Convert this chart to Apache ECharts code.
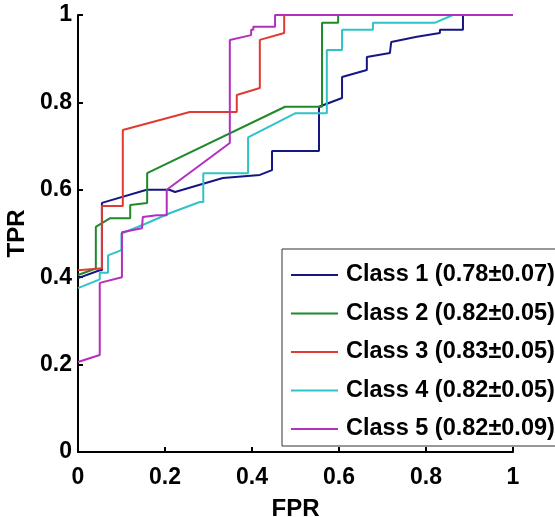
<!DOCTYPE html>
<html>
<head>
<meta charset="utf-8">
<script src="https://cdn.jsdelivr.net/npm/echarts@6/dist/echarts.min.js"></script>
<style>
  html, body { margin: 0; padding: 0; background: #fff; }
  #chart { width: 555px; height: 517px; }
</style>
</head>
<body>
<div id="chart"></div>
<script>
// ROC points [FPR, TPR]
const class1 = [[0,0.398],[0.05,0.416],[0.055,0.416],[0.055,0.57],[0.158,0.6],[0.21,0.6],[0.223,0.595],[0.333,0.627],[0.418,0.634],[0.446,0.645],[0.446,0.689],[0.554,0.689],[0.554,0.79],[0.607,0.81],[0.607,0.858],[0.664,0.874],[0.664,0.904],[0.717,0.913],[0.72,0.938],[0.779,0.95],[0.832,0.959],[0.832,0.966],[0.885,0.966],[0.885,1],[1,1]]
const class2 = [[0,0.405],[0.041,0.42],[0.041,0.515],[0.074,0.535],[0.12,0.535],[0.12,0.565],[0.159,0.57],[0.159,0.638],[0.476,0.79],[0.561,0.79],[0.561,0.982],[0.598,0.982],[0.598,1],[1,1]]
const class3 = [[0,0.416],[0.05,0.42],[0.055,0.42],[0.055,0.563],[0.103,0.563],[0.103,0.737],[0.257,0.778],[0.365,0.778],[0.365,0.817],[0.418,0.833],[0.418,0.943],[0.474,0.959],[0.474,1],[1,1]]
const class4 = [[0,0.375],[0.05,0.395],[0.05,0.41],[0.069,0.41],[0.069,0.45],[0.1,0.462],[0.1,0.5],[0.15,0.52],[0.212,0.547],[0.28,0.572],[0.288,0.572],[0.288,0.638],[0.391,0.638],[0.391,0.72],[0.499,0.775],[0.572,0.775],[0.572,0.92],[0.607,0.92],[0.607,0.966],[0.678,0.966],[0.678,0.982],[0.82,0.982],[0.862,1],[1,1]]
const class5 = [[0,0.206],[0.05,0.222],[0.05,0.387],[0.101,0.4],[0.101,0.503],[0.147,0.512],[0.149,0.538],[0.181,0.542],[0.204,0.542],[0.204,0.6],[0.349,0.707],[0.349,0.943],[0.398,0.954],[0.398,0.966],[0.403,0.966],[0.403,0.973],[0.453,0.973],[0.453,1],[1,1]]

const names = ['Class 1 (0.78±0.07)', 'Class 2 (0.82±0.05)', 'Class 3 (0.83±0.05)', 'Class 4 (0.82±0.05)', 'Class 5 (0.82±0.09)']
const colors = ['#161682', '#1f8a2a', '#e03a33', '#2fc3c8', '#b42ec0']
const curves = [class1, class2, class3, class4, class5]

const chart = echarts.init(document.getElementById('chart'))

const axisCommon = {
  type: 'value',
  min: 0,
  max: 1,
  interval: 0.2,
  splitLine: { show: false },
  axisLine: { show: true, lineStyle: { color: '#000', width: 2 } },
  axisTick: { show: true, inside: true, length: 5, lineStyle: { color: '#000', width: 2 } },
  axisLabel: { color: '#000', fontFamily: 'Liberation Sans', fontWeight: 'bold', fontSize: 23 },
  nameTextStyle: { color: '#000', fontFamily: 'Liberation Sans', fontWeight: 'bold', fontSize: 24 }
}

chart.setOption({
  animation: false,
  backgroundColor: '#fff',
  grid: { left: 78, top: 15, width: 435, height: 437, containLabel: false, outerBoundsMode: 'none' },
  xAxis: Object.assign({}, axisCommon, {
    name: 'FPR', nameLocation: 'middle', nameGap: 45,
    axisLabel: Object.assign({}, axisCommon.axisLabel, { margin: 14 })
  }),
  yAxis: Object.assign({}, axisCommon, {
    name: 'TPR', nameLocation: 'middle', nameGap: 49,
    axisLabel: Object.assign({}, axisCommon.axisLabel, { margin: 6 })
  }),
  legend: {
    orient: 'vertical',
    left: 282,
    top: 249,
    padding: [12, 14, 3, 9],
    itemWidth: 47,
    itemHeight: 2,
    itemGap: 10.5,
    icon: 'rect',
    borderColor: '#333',
    borderWidth: 1,
    backgroundColor: '#fff',
    textStyle: { color: '#000', fontFamily: 'Liberation Sans', fontWeight: 'bold', fontSize: 23.5, lineHeight: 28, padding: [0, 0, 0, 3] },
    data: names
  },
  series: curves.map((d, i) => ({
    name: names[i],
    type: 'line',
    data: d,
    showSymbol: false,
    symbol: 'none',
    color: colors[i],
    lineStyle: { color: colors[i], width: 2 }
  }))
})
</script>
</body>
</html>
